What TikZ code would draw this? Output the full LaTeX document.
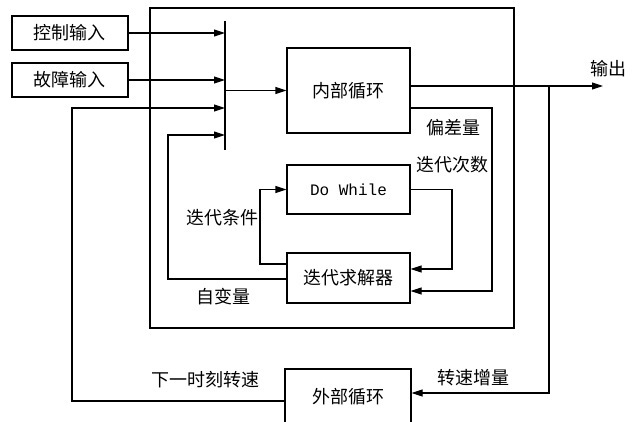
\documentclass[tikz,border=0pt]{standalone}
\usepackage{fontspec}
\newfontfamily\cjk{Noto Sans CJK SC}
\newfontfamily\monof{Liberation Mono}
\usetikzlibrary{arrows.meta}
\tikzset{
  box/.style={draw, line width=1.1pt, minimum width=123pt, inner sep=0pt, font=\cjk\fontsize{18}{18}\selectfont},
  inbox/.style={draw, line width=1.1pt, minimum width=116pt, minimum height=34pt, inner sep=0pt, font=\cjk\fontsize{18}{18}\selectfont},
  lbl/.style={inner sep=0pt, font=\cjk\fontsize{18}{18}\selectfont},
  wire/.style={line width=1.1pt},
  arr/.style={line width=1.1pt, -{Triangle[length=11pt,width=7pt]}},
}
\begin{document}
\begin{tikzpicture}[x=1pt,y=-1pt]
\useasboundingbox (0,0) rectangle (638,421);
% big frame
\draw[wire] (150,8) rectangle (514,328);
% input boxes
\node[inbox] (ctrl) at (70,33) {控制输入};
\node[inbox] (fault) at (70,80) {故障输入};
% summing bar
\coordinate (barT) at (225,21);
\coordinate (barB) at (225,150);
\draw[wire] (barT) -- (barB);
% blocks
\node[box, minimum height=85pt] (inner) at (348.5,90.5) {内部循环};
\node[box, minimum height=49pt, font=\monof\fontsize{16}{16}\selectfont] (dw) at (348.5,189.5) {Do While};
\node[box, minimum height=50pt] (solver) at (348.5,278) {迭代求解器};
\node[box, minimum width=126pt, minimum height=55pt] (outer) at (348,396.5) {外部循环};
% inputs to bar
\draw[arr] (ctrl.east) -- (ctrl.east -| barT);
\draw[arr] (fault.east) -- (fault.east -| barT);
\draw[arr] (barT |- inner.west) -- (inner.west);
% output
\coordinate (out) at (603,86);
\coordinate (tap) at (549,86);
\coordinate (tapB) at (549,393);
\draw[arr] (inner.east |- out) -- (out);
\node[lbl] (outl) at (608,69) {输出};
\draw[arr] (tap) -- (tapB) -- (outer.east |- tapB);
\node[lbl] (dzl) at (473,378) {转速增量};
% outer loop feedback
\coordinate (fbB) at (72,401);
\coordinate (fbT) at (72,108);
\draw[arr] (outer.west |- fbB) -- (fbB) -- (fbT) -- (fbT -| barT);
\node[lbl] (nextl) at (205,380) {下一时刻转速};
% deviation
\coordinate (devA) at (492,108);
\coordinate (devB) at (492,291);
\draw[arr] (inner.east |- devA) -- (devA) -- (devB) -- (solver.east |- devB);
\node[lbl] (devl) at (453,128) {偏差量};
% iteration count
\coordinate (itA) at (452,189.5);
\coordinate (itB) at (452,269);
\draw[arr] (dw.east) -- (itA) -- (itB) -- (solver.east |- itB);
\node[lbl] (itl) at (452,165) {迭代次数};
% iteration condition
\coordinate (icA) at (260,264);
\draw[arr] (solver.west |- icA) -- (icA) -- (icA |- dw.west) -- (dw.west);
\node[lbl] (icl) at (222,218) {迭代条件};
% independent variable
\coordinate (ivA) at (168,279);
\coordinate (ivB) at (168,135);
\draw[arr] (solver.west |- ivA) -- (ivA) -- (ivB) -- (ivB -| barT);
\node[lbl] (ivl) at (223,297) {自变量};
\end{tikzpicture}
\end{document}
